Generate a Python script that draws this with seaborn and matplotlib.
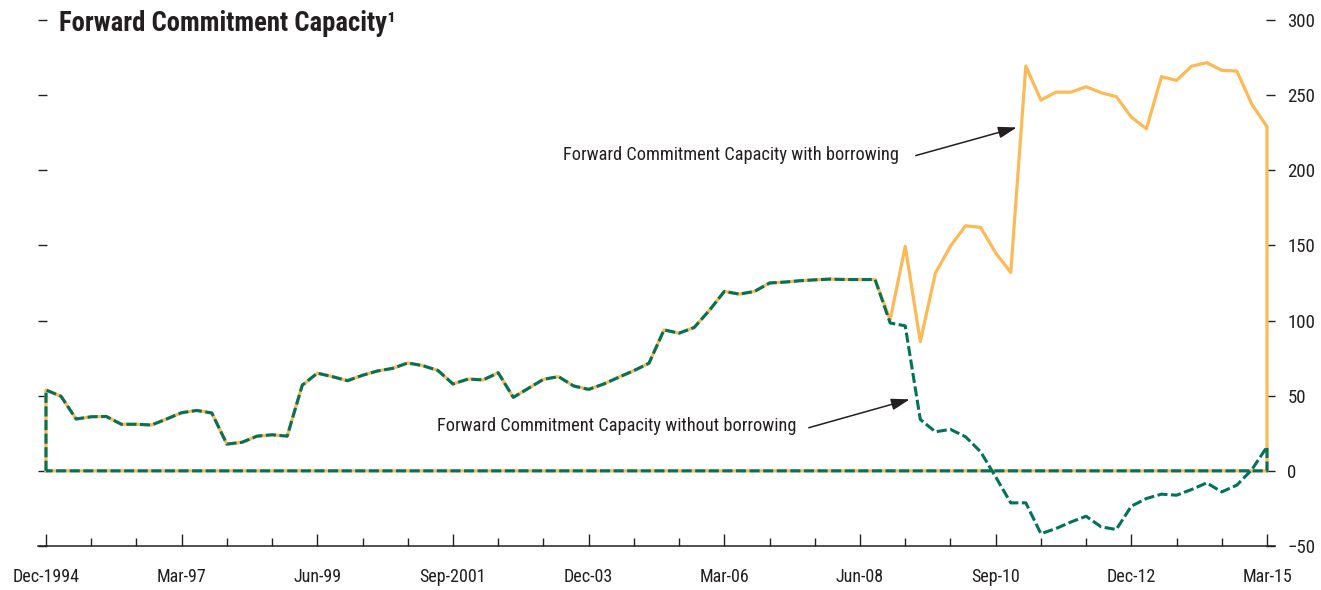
import numpy as np
import pandas as pd
import matplotlib
matplotlib.use("Agg")
import matplotlib.pyplot as plt
from matplotlib import font_manager
from matplotlib.ticker import MultipleLocator, FixedLocator
import seaborn as sns

# ---------------- data (quarterly, Dec-1994 .. Mar-2015) ----------------
tick_labels = ["Dec-1994", "Mar-97", "Jun-99", "Sep-2001", "Dec-03",
               "Mar-06", "Jun-08", "Sep-10", "Dec-12", "Mar-15"]

without_borrowing = [53.8, 49.6, 34.5, 36.0, 36.2, 31.0, 31.0, 30.5, 34.5, 38.7,
                     40.2, 38.5, 17.8, 19.0, 23.1, 24.0, 23.1, 57.0, 65.0, 62.7,
                     60.0, 63.6, 66.5, 68.2, 71.8, 70.0, 66.8, 57.8, 61.1, 60.5,
                     65.3, 48.9, 54.9, 60.9, 62.7, 56.5, 54.2, 57.8, 62.3, 66.7,
                     71.6, 93.8, 91.6, 95.4, 106.7, 119.4, 117.6, 119.4, 125.0, 125.6,
                     126.5, 127.1, 127.6, 127.3, 127.3, 127.3, 98.4, 96.5, 34.2, 26.0,
                     27.6, 22.7, 12.7, -4.0, -21.3, -21.3, -41.8, -38.4, -34.0, -30.2,
                     -37.3, -39.0, -23.5, -18.4, -15.5, -16.2, -12.4, -8.0, -14.0, -9.5,
                     0.9, 16.0]

with_borrowing = [53.8, 49.6, 34.5, 36.0, 36.2, 31.0, 31.0, 30.5, 34.5, 38.7,
                  40.2, 38.5, 17.8, 19.0, 23.1, 24.0, 23.1, 57.0, 65.0, 62.7,
                  60.0, 63.6, 66.5, 68.2, 71.8, 70.0, 66.8, 57.8, 61.1, 60.5,
                  65.3, 48.9, 54.9, 60.9, 62.7, 56.5, 54.2, 57.8, 62.3, 66.7,
                  71.6, 93.8, 91.6, 95.4, 106.7, 119.4, 117.6, 119.4, 125.0, 125.6,
                  126.5, 127.1, 127.6, 127.3, 127.3, 127.3, 100.5, 149.4, 86.0, 131.6,
                  149.5, 163.1, 162.0, 145.0, 132.0, 269.3, 246.7, 252.0, 252.0, 255.6,
                  251.6, 249.0, 235.4, 227.6, 262.3, 259.8, 269.3, 271.6, 266.5, 266.0,
                  243.8, 229.0]

ORANGE = "#FDB955"
GREEN = "#00735A"
TEXT = "#231F20"

# ---------------- fonts: prefer a condensed sans face if one is installed ----------------
sns.set_style("white")
cond_stretch = ("condensed", "semi-condensed", "extra-condensed", "ultra-condensed")
entries = font_manager.fontManager.ttflist
cond_fams = {f.name for f in entries
             if str(f.stretch) in cond_stretch or "Condensed" in f.name or "Narrow" in f.name}
preference = ["Roboto Condensed", "Liberation Sans Narrow", "Open Sans Condensed",
              "Noto Sans Condensed", "Noto Sans", "Open Sans", "Roboto",
              "DejaVu Sans Condensed", "DejaVu Sans"]
chosen = next((f for f in preference if f in cond_fams), "Liberation Sans")
plt.rcParams["font.family"] = [chosen, "DejaVu Sans"]
plt.rcParams["font.stretch"] = "condensed"
plt.rcParams["axes.unicode_minus"] = True


def outline(values):
    """Closed outline of an area: up from zero, along the series, down to zero, back along zero."""
    n = len(values)
    xs = [0] + list(range(n)) + [n - 1, 0]
    ys = [0.0] + list(values) + [0.0, 0.0]
    return pd.DataFrame({"q": xs, "v": ys})


df_with = outline(with_borrowing)
df_without = outline(without_borrowing)
n = len(without_borrowing)

fig = plt.figure(figsize=(13.21, 5.90), dpi=100)
ax = fig.add_axes([38 / 1321, 1 - 546 / 590, (1275 - 38) / 1321, (546 - 20) / 590])


def fit_size(text, target_px, weight="normal", base=20):
    """Font size at which `text` is target_px wide in the chosen face."""
    t = fig.text(0, 0, text, fontsize=base, fontweight=weight)
    fig.canvas.draw()
    w = t.get_window_extent().width
    t.remove()
    return base * target_px / w


title_size = min(fit_size("Forward Commitment Capacity¹", 336, "bold"), 23)
note_size = min(fit_size("Forward Commitment Capacity with borrowing", 336), 16)
xlab_size = min(fit_size("Dec-1994", 67), 16)
ylab_size = min(fit_size("300", 28), 15)

sns.lineplot(data=df_with, x="q", y="v", sort=False, estimator=None, ax=ax,
             color=ORANGE, linewidth=2.3, zorder=2)
sns.lineplot(data=df_without, x="q", y="v", sort=False, estimator=None, ax=ax,
             color=GREEN, linewidth=2.2, linestyle=(0, (3.3, 1.15)), zorder=3)

ax.set_xlim(-0.53, n - 1 + 0.53)
ax.set_ylim(-50, 300)
ax.set_xlabel("")
ax.set_ylabel("")

for s in ["left", "right", "top"]:
    ax.spines[s].set_visible(False)
ax.spines["bottom"].set_color(TEXT)
ax.spines["bottom"].set_linewidth(1.1)

# x ticks
ax.xaxis.set_major_locator(FixedLocator(np.arange(0, n, 9)))
ax.xaxis.set_minor_locator(FixedLocator(np.arange(0, n, 3)))
ax.set_xticklabels(tick_labels)
ax.tick_params(axis="x", which="major", direction="in", length=9, width=1.0,
               color=TEXT, labelsize=xlab_size, labelcolor=TEXT, pad=16, bottom=True)
ax.tick_params(axis="x", which="minor", direction="in", length=6, width=1.0,
               color=TEXT, bottom=True)

# y ticks (both sides, labels on right)
ax.yaxis.set_major_locator(MultipleLocator(50))
ax.tick_params(axis="y", which="major", direction="in", length=6.5, width=1.0,
               color=TEXT, left=True, right=True, labelleft=False, labelright=True,
               labelsize=ylab_size, labelcolor=TEXT, pad=9)

# title
fig.text(59 / 1321, 1 - 31 / 590, "Forward Commitment Capacity¹", fontsize=title_size,
         fontweight="bold", color=TEXT, ha="left", va="baseline")

# annotations
arrow = dict(arrowstyle="-|>,head_length=0.7,head_width=0.22", color=TEXT, lw=1.1,
             mutation_scale=16, shrinkA=0, shrinkB=0)
ax.annotate("", xy=(64.4, 228.5), xytext=(57.7, 209.8), arrowprops=arrow)
ax.text(56.6, 210.5, "Forward Commitment Capacity with borrowing", fontsize=note_size,
        color=TEXT, ha="right", va="center")
ax.annotate("", xy=(57.3, 47.6), xytext=(50.6, 28.7), arrowprops=arrow)
ax.text(49.8, 30.0, "Forward Commitment Capacity without borrowing", fontsize=note_size,
        color=TEXT, ha="right", va="center")

fig.savefig("out.png", dpi=100, facecolor="white")
